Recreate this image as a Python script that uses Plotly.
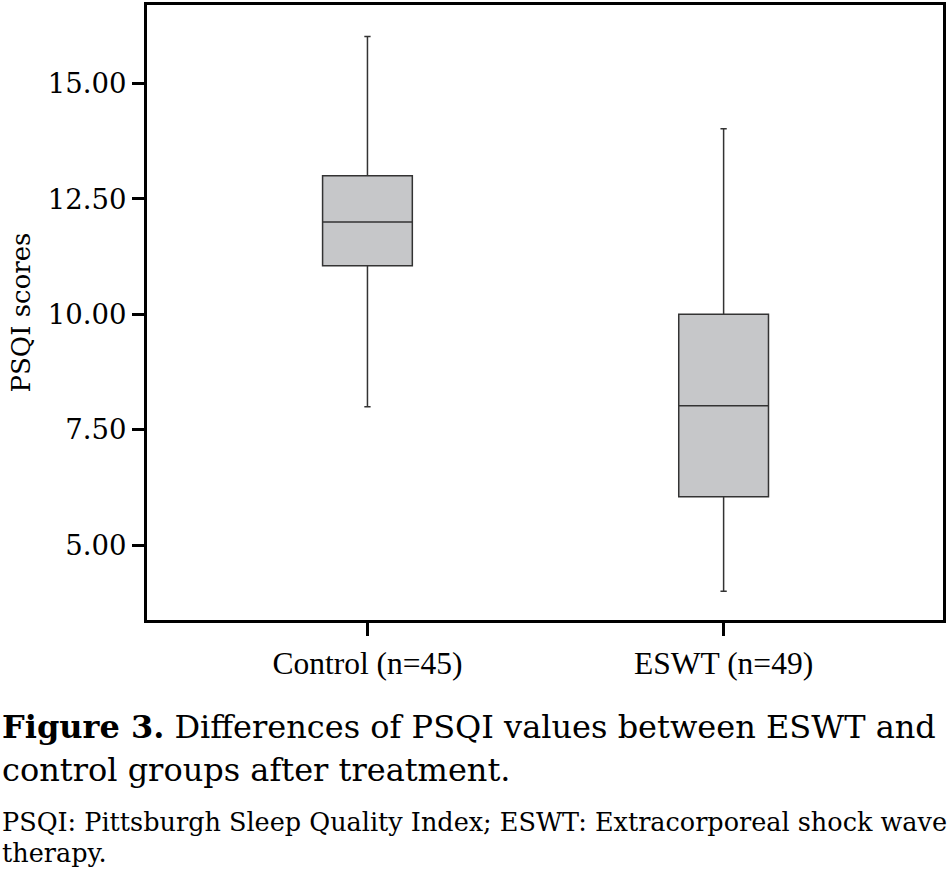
import plotly.graph_objects as go

groups = ["Control (n=45)", "ESWT (n=49)"]
lower_fence = [8.0, 4.0]
q1 = [11.05, 6.05]
median = [12.0, 8.02]
q3 = [13.0, 10.0]
upper_fence = [16.02, 14.02]
y_ticks = [5.0, 7.5, 10.0, 12.5, 15.0]

W, H = 948, 872
L, R, T, B = 147, 3, 2, 252
pw, ph = W - L - R, H - T - B

def px(x):
    return (x - L) / pw

def py(y):
    return (H - B - y) / ph

fig = go.Figure()
fig.add_trace(go.Box(
    x=groups, q1=q1, median=median, q3=q3,
    lowerfence=lower_fence, upperfence=upper_fence,
    fillcolor="#c6c7c9",
    line=dict(color="#333333", width=1.5),
    width=0.252, whiskerwidth=0.07,
    boxpoints=False, showlegend=False, hoverinfo="skip",
))

serif = "DejaVu Serif"
fig.update_layout(
    width=W, height=H,
    margin=dict(l=L, r=R, t=T, b=B),
    paper_bgcolor="white", plot_bgcolor="white",
    font=dict(family=serif, color="black"),
    xaxis=dict(
        range=[-0.619, 1.616], showgrid=False, zeroline=False,
        showline=True, linecolor="black", linewidth=3, mirror=True,
        ticks="outside", ticklen=13, tickwidth=2.5, tickcolor="black",
        tickfont=dict(family="Liberation Serif", size=31.5),
    ),
    yaxis=dict(
        range=[3.38, 16.70], showgrid=False, zeroline=False,
        showline=True, linecolor="black", linewidth=3, mirror=True,
        ticks="outside", ticklen=12, tickwidth=2.5, tickcolor="black",
        tickvals=y_ticks, tickformat=".2f",
        tickfont=dict(family=serif, size=27.5),
        title=dict(text="PSQI scores", font=dict(family=serif, size=26), standoff=10),
    ),
)

captions = [
    ("<b>Figure 3.</b> Differences of PSQI values between ESWT and", 728, 32),
    ("control groups after treatment.", 771, 32),
    ("PSQI: Pittsburgh Sleep Quality Index; ESWT: Extracorporeal shock wave", 823, 25.5),
    ("therapy.", 854, 25.5),
]
for text, ycen, size in captions:
    fig.add_annotation(
        text=text, xref="paper", yref="paper", x=px(0), y=py(ycen),
        xanchor="left", yanchor="middle", showarrow=False,
        font=dict(family=serif, size=size, color="black"),
    )

fig.write_html("out.html", config={"displayModeBar": False},
               post_script="document.body.style.margin='0';")
